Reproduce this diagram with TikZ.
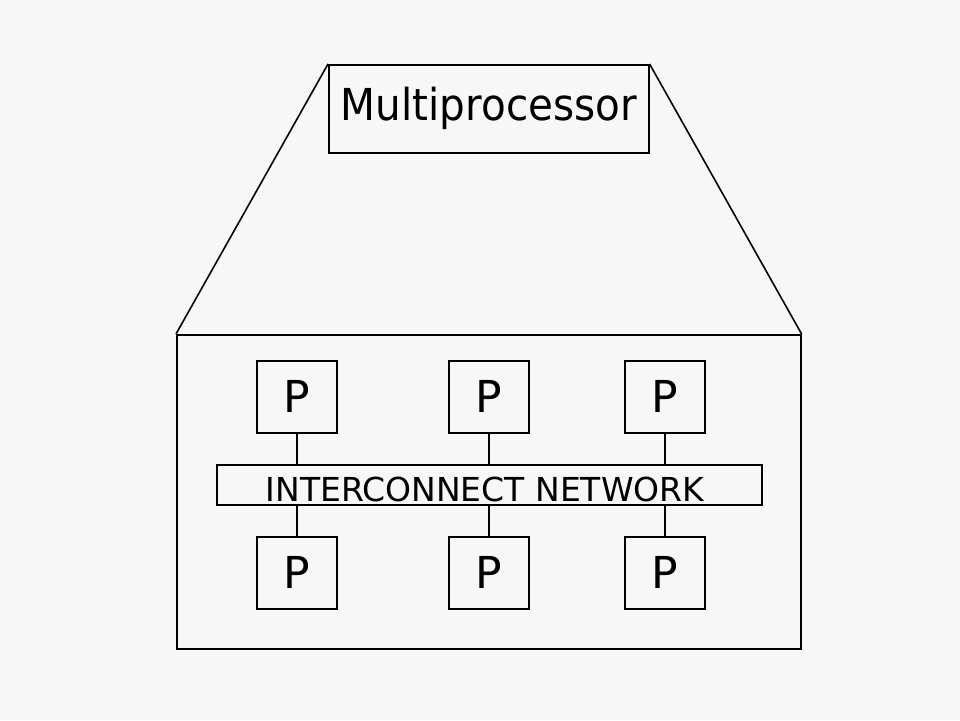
\documentclass[tikz,border=0pt]{standalone}
\usepackage{fontspec}
\setmainfont{DejaVu Sans}
\definecolor{bg}{HTML}{F7F7F7}
\begin{document}
\begin{tikzpicture}[x=1pt,y=-1pt,
  box/.style={draw=black,line width=1.6pt,fill=bg,inner sep=0pt,anchor=north west},
  pbox/.style={box,minimum width=80pt,minimum height=72pt,font=\fontsize{44}{50}\selectfont},
  link/.style={line width=1.6pt}]
\fill[bg] (0,0) rectangle (960,720);
\useasboundingbox (0,0) rectangle (960,720);
\node[box,minimum width=624pt,minimum height=314pt] (big) at (176,334) {};
\node[box,minimum width=320pt,minimum height=88pt,font=\fontsize{44}{50}\selectfont] (mp) at (328,64) {\scalebox{0.92}[1]{Multiprocessor}};
\draw[link] (mp.north west) -- (big.north west);
\draw[link] (mp.north east) -- (big.north east);
\node[box,minimum width=545pt,minimum height=40pt] (net) at (216,464) {};
\node[font=\fontsize{33}{36}\selectfont,inner sep=0pt] (nettext) at (485,489) {INTERCONNECT NETWORK};
\node[pbox] (p1) at (256,360) {P};
\node[pbox] (p2) at (448,360) {P};
\node[pbox] (p3) at (624,360) {P};
\node[pbox] (q1) at (256,536) {P};
\node[pbox] (q2) at (448,536) {P};
\node[pbox] (q3) at (624,536) {P};
\foreach \a/\b in {p1/q1,p2/q2,p3/q3}{
  \draw[link] (\a.south) -- (\a.south |- net.north);
  \draw[link] (\b.north) -- (\b.north |- net.south);
}
\end{tikzpicture}
\end{document}
